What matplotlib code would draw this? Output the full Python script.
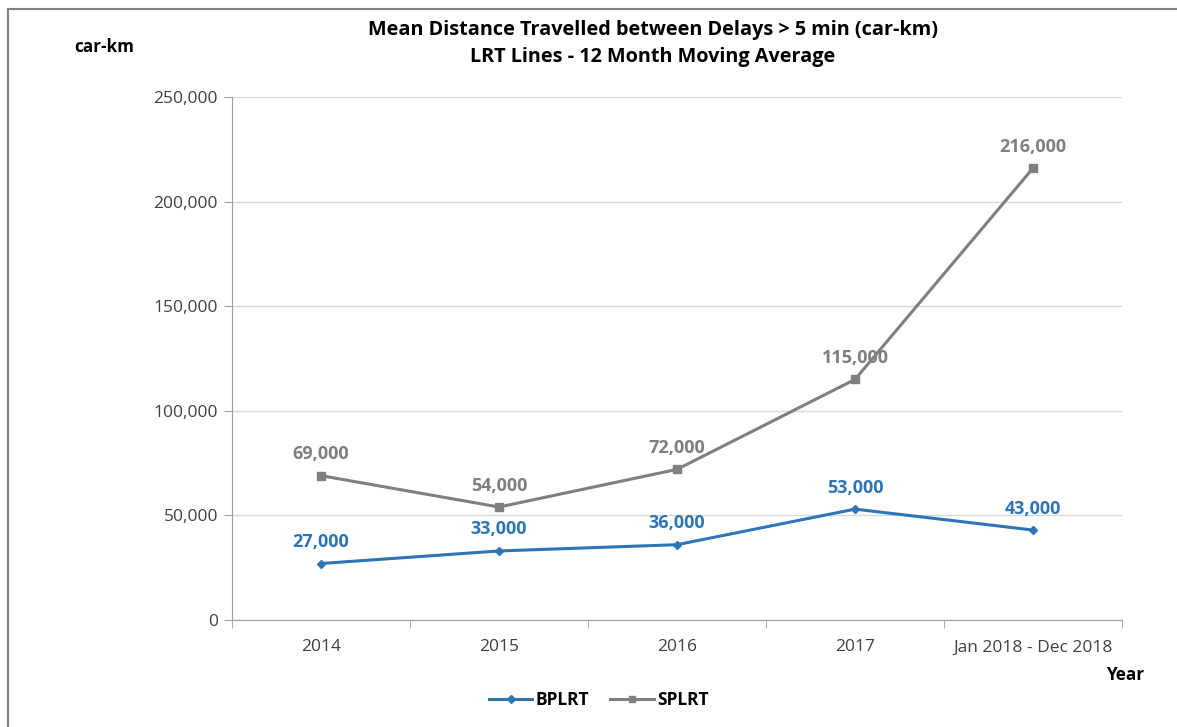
import matplotlib.pyplot as plt
import matplotlib.ticker as mticker
from matplotlib.patches import Rectangle

plt.rcParams["font.family"] = ["Open Sans", "DejaVu Sans"]

categories = ["2014", "2015", "2016", "2017", "Jan 2018 - Dec 2018"]
bplrt = [27000, 33000, 36000, 53000, 43000]
splrt = [69000, 54000, 72000, 115000, 216000]

BLUE = "#2E75B6"
GRAY = "#7F7F7F"


def _fmt_thousands(x, _):
    return f"{int(x):,}"


def main():
    fig = plt.figure(figsize=(11.77, 7.27), dpi=100)
    ax = fig.add_axes([232 / 1177, 1 - 620 / 727, 890 / 1177, 523 / 727])

    # outer frame like the source chart
    fig.patches.append(Rectangle((8 / 1177, -0.1), 1.2, 1 - 9 / 727 + 0.1,
                                 transform=fig.transFigure, fill=False,
                                 edgecolor="#808080", linewidth=1.5))

    x = list(range(len(categories)))
    ax.plot(x, bplrt, color=BLUE, linewidth=2.2, marker="D", markersize=4.5,
            label="BPLRT")
    ax.plot(x, splrt, color=GRAY, linewidth=2.2, marker="s", markersize=6,
            label="SPLRT")

    for xi, val in zip(x, bplrt):
        ax.annotate(f"{val:,}", (xi, val), xytext=(0, 9), textcoords="offset points",
                    ha="center", va="bottom", color=BLUE, fontsize=13, fontweight="bold")
    for xi, val in zip(x, splrt):
        ax.annotate(f"{val:,}", (xi, val), xytext=(0, 9), textcoords="offset points",
                    ha="center", va="bottom", color=GRAY, fontsize=13, fontweight="bold")

    ax.set_xlim(-0.5, len(categories) - 0.5)
    ax.set_ylim(0, 250000)
    ax.yaxis.set_major_locator(mticker.MultipleLocator(50000))
    ax.yaxis.set_major_formatter(mticker.FuncFormatter(_fmt_thousands))
    ax.set_xticks(x)
    ax.set_xticklabels(categories)
    ax.set_xticks([i - 0.5 for i in range(len(categories) + 1)], minor=True)
    ax.tick_params(axis="x", which="major", length=0, pad=14, labelsize=12.5, colors="#404040")
    ax.tick_params(axis="x", which="minor", length=6, color="#A0A0A0")
    ax.tick_params(axis="y", length=6, color="#A0A0A0", labelsize=12.5, labelcolor="#404040", pad=4)

    ax.grid(axis="y", color="#D9D9D9", linewidth=1)
    ax.set_axisbelow(True)
    for side in ["top", "right"]:
        ax.spines[side].set_visible(False)
    for side in ["left", "bottom"]:
        ax.spines[side].set_color("#A0A0A0")

    fig.text(653 / 1177, 1 - 30 / 727, "Mean Distance Travelled between Delays > 5 min (car-km)",
             ha="center", va="center", fontsize=14.3, fontweight="bold")
    fig.text(653 / 1177, 1 - 57 / 727, "LRT Lines - 12 Month Moving Average",
             ha="center", va="center", fontsize=14.3, fontweight="bold")
    fig.text(104 / 1177, 1 - 47 / 727, "car-km", ha="center", va="center",
             fontsize=12.3, fontweight="bold")
    fig.text(1125 / 1177, 1 - 675 / 727, "Year", ha="center", va="center",
             fontsize=12.3, fontweight="bold")

    fig.legend(loc="center", bbox_to_anchor=(599 / 1177, 1 - 700 / 727), ncol=2,
               frameon=False, handlelength=2.5, columnspacing=1.2, handletextpad=0.2,
               markerscale=0.8, prop={"weight": "bold", "size": 12.5})

    fig.savefig("out.png", dpi=100)
    plt.close(fig)


if __name__ == "__main__":
    main()
